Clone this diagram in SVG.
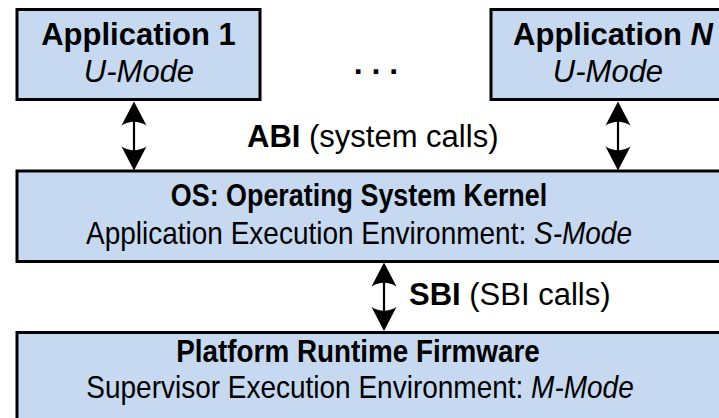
<svg xmlns="http://www.w3.org/2000/svg" width="719" height="418" viewBox="0 0 719 418">
  <style>
    .box { fill: #c6d9f0; stroke: #000; stroke-width: 3; }
    text { font-family: "Liberation Sans", Arial, sans-serif; font-size: 31px; fill: #000; }
    .t { text-anchor: middle; }
    .b { font-weight: bold; }
    .i { font-style: italic; }
    .n { font-size: 32px; }
    .shaft { stroke: #000; stroke-width: 2.2; fill: none; }
    .head { fill: #000; }
  </style>
  <defs>
    <!-- arrowhead pointing up, tip at origin -->
    <path id="headUp" class="head" d="M0 0 L12.5 24 Q0 16.5 -12.5 24 Z"/>
  </defs>

  <rect width="719" height="418" fill="#fff"/>

  <g id="app1">
    <rect class="box" x="17" y="9.5" width="243" height="90"/>
    <text class="t b" x="138.5" y="45">Application 1</text>
    <text class="t i" x="139" y="82">U-Mode</text>
  </g>

  <g id="ellipsis">
    <text class="t b" x="376" y="74" style="font-size:32px">. . .</text>
  </g>

  <g id="appN">
    <rect class="box" x="491" y="9.5" width="243" height="90"/>
    <text class="t b" x="613" y="45">Application <tspan class="i">N</tspan></text>
    <text class="t i" x="608" y="82">U-Mode</text>
  </g>

  <!-- lower boxes use a condensed face: scaled horizontally -->
  <g id="os">
    <rect class="box" x="17" y="171" width="720" height="90.5"/>
    <text class="t b n" transform="translate(359 206) scale(0.84 1)">OS: Operating System Kernel</text>
    <text class="t n" transform="translate(359 244) scale(0.875 1)">Application Execution Environment: <tspan class="i">S-Mode</tspan></text>
  </g>

  <g id="firmware">
    <rect class="box" x="17" y="332.5" width="720" height="100"/>
    <text class="t b n" transform="translate(358 362) scale(0.87 1)">Platform Runtime Firmware</text>
    <text class="t n" transform="translate(360 398) scale(0.875 1)">Supervisor Execution Environment: <tspan class="i">M-Mode</tspan></text>
  </g>

  <g id="connectors">
    <!-- ABI: app 1 <-> kernel -->
    <line class="shaft" x1="134" y1="115" x2="134" y2="157"/>
    <use href="#headUp" transform="translate(134 101.5)"/>
    <use href="#headUp" transform="translate(134 170.5) scale(1 -1)"/>
    <!-- ABI: app N <-> kernel -->
    <line class="shaft" x1="618" y1="115" x2="618" y2="157"/>
    <use href="#headUp" transform="translate(618 101.5)"/>
    <use href="#headUp" transform="translate(618 170.5) scale(1 -1)"/>
    <!-- SBI: kernel <-> firmware -->
    <line class="shaft" x1="384" y1="276" x2="384" y2="318"/>
    <use href="#headUp" transform="translate(384 262.5)"/>
    <use href="#headUp" transform="translate(384 331) scale(1 -1)"/>
  </g>

  <g id="labels">
    <text x="247" y="147"><tspan class="b">ABI</tspan> (system calls)</text>
    <text x="409" y="305"><tspan class="b">SBI</tspan> (SBI calls)</text>
  </g>
</svg>
